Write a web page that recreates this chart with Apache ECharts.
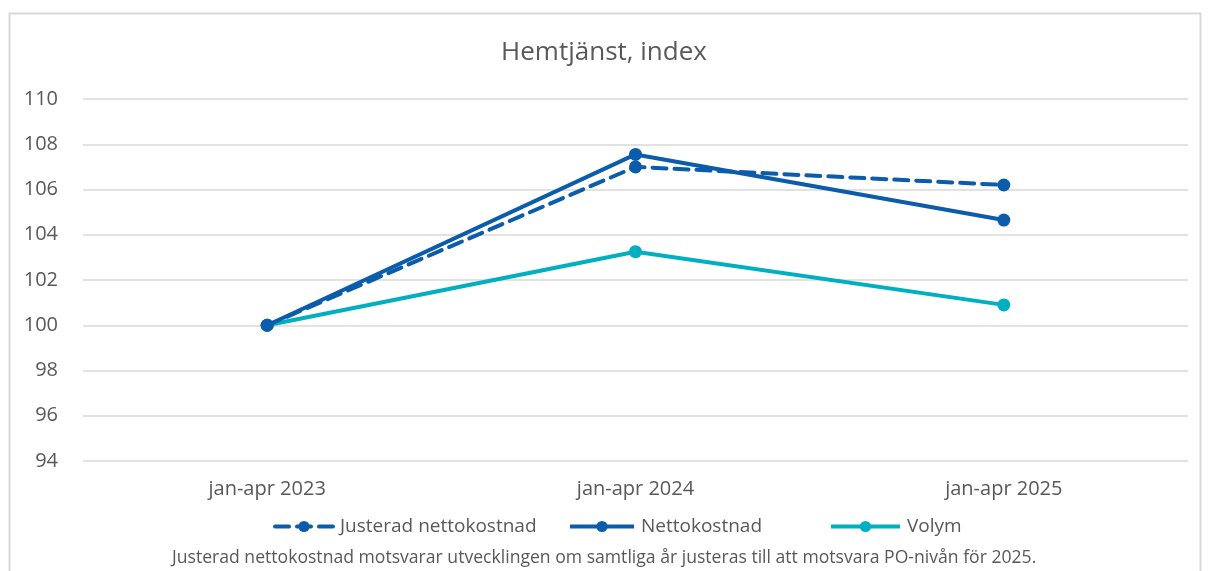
<!DOCTYPE html>
<html>
<head>
<meta charset="utf-8">
<script src="https://cdn.jsdelivr.net/npm/echarts@6/dist/echarts.min.js"></script>
<style>
  html, body { margin: 0; padding: 0; background: #fff; }
  #chart { width: 1208px; height: 571px; }
</style>
</head>
<body>
<div id="chart"></div>
<script>
var categories = ['jan-apr 2023', 'jan-apr 2024', 'jan-apr 2025'];
var justerad = [100, 107.0, 106.2];
var netto = [100, 107.55, 104.65];
var volym = [100, 103.25, 100.9];

var darkBlue = '#0B5CAB';
var teal = '#00AFC0';
var font = 'Open Sans';
var textGray = '#595959';

var chart = echarts.init(document.getElementById('chart'));

// one legend per item so each can sit where the reference puts it
function legendAt(name, left, w) {
    return {
        data: [name],
        left: left,
        bottom: 35,
        padding: 0,
        itemWidth: w,
        itemHeight: 14,
        lineStyle: { width: 4 },
        textStyle: { color: textGray, fontSize: 19, fontFamily: font, padding: [0, 0, 0, 2] }
    };
}

var option = {
    animation: false,
    textStyle: { fontFamily: font },
    title: [{
        text: 'Hemtjänst, index',
        left: 'center',
        top: 35,
        textStyle: { color: textGray, fontSize: 26, fontWeight: 'normal', fontFamily: font }
    }, {
        text: 'Justerad nettokostnad motsvarar utvecklingen om samtliga år justeras till att motsvara PO-nivån för 2025.',
        left: 172,
        top: 549,
        padding: 0,
        textStyle: { color: textGray, fontSize: 17.6, fontWeight: 'normal', fontFamily: font }
    }],
    graphic: [{
        type: 'rect',
        shape: { x: 9.5, y: 13.5, width: 1191, height: 580 },
        style: { fill: 'none', stroke: '#d9d9d9', lineWidth: 2 },
        silent: true
    }],
    legend: [
        legendAt('Justerad nettokostnad', 273, 58),
        legendAt('Nettokostnad', 568, 64),
        legendAt('Volym', 829, 69)
    ],
    grid: {
        left: 83,
        right: 20,
        top: 99,
        bottom: 110
    },
    xAxis: {
        type: 'category',
        data: categories,
        boundaryGap: true,
        axisLine: { show: false },
        axisTick: { show: false },
        axisLabel: { color: textGray, fontSize: 20, margin: 18 }
    },
    yAxis: {
        type: 'value',
        min: 94,
        max: 110,
        interval: 2,
        axisLine: { show: false },
        axisTick: { show: false },
        axisLabel: { color: textGray, fontSize: 20, margin: 25 },
        splitLine: { lineStyle: { color: '#d9d9d9', width: 1.5 } }
    },
    series: [{
        name: 'Justerad nettokostnad',
        type: 'line',
        data: justerad,
        symbol: 'circle',
        symbolSize: 13,
        itemStyle: { color: darkBlue },
        lineStyle: { color: darkBlue, width: 4, type: [14, 8], cap: 'round' },
        z: 3
    }, {
        name: 'Nettokostnad',
        type: 'line',
        data: netto,
        symbol: 'circle',
        symbolSize: 13,
        itemStyle: { color: darkBlue },
        lineStyle: { color: darkBlue, width: 4 },
        z: 2
    }, {
        name: 'Volym',
        type: 'line',
        data: volym,
        symbol: 'circle',
        symbolSize: 13,
        itemStyle: { color: teal },
        lineStyle: { color: teal, width: 4 },
        z: 2
    }]
};

chart.setOption(option);
</script>
</body>
</html>
